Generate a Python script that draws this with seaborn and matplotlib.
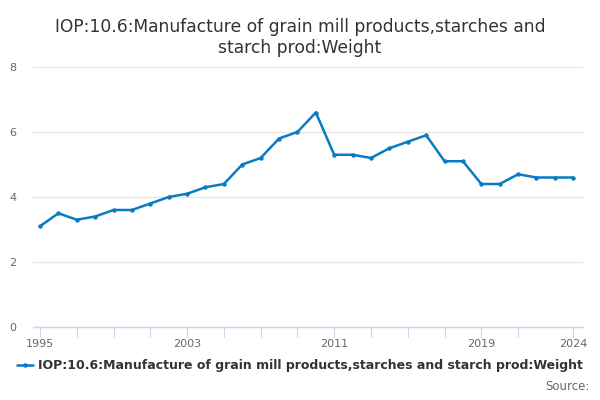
import numpy as np
import matplotlib
matplotlib.use("Agg")
import matplotlib.pyplot as plt
import seaborn as sns

years = list(range(1995, 2025))
values = [3.1, 3.5, 3.3, 3.4, 3.6, 3.6, 3.8, 4.0, 4.1, 4.3,
          4.4, 5.0, 5.2, 5.8, 6.0, 6.6, 5.3, 5.3, 5.2, 5.5,
          5.7, 5.9, 5.1, 5.1, 4.4, 4.4, 4.7, 4.6, 4.6, 4.6]
tick_years = list(range(1995, 2023, 2)) + [2024]
label_years = [1995, 2003, 2011, 2019, 2024]
yticks = [0, 2, 4, 6, 8]
series_name = "IOP:10.6:Manufacture of grain mill products,starches and starch prod:Weight"
title = "IOP:10.6:Manufacture of grain mill products,starches and\nstarch prod:Weight"

sns.set_style("white")
plt.rcParams['font.family'] = ['DejaVu Sans']

fig = plt.figure(figsize=(6, 4), dpi=100)
ax = fig.add_axes([0.055, 0.1825, 0.917, 0.65])

line_color = "#0b7bc1"
sns.lineplot(x=years, y=values, color=line_color, linewidth=1.8, marker="o",
             markersize=3.2, markeredgewidth=0, ax=ax, label=series_name, legend=False)

ax.set_xlim(1994.62, 2024.54)
ax.set_ylim(0, 8)
ax.set_yticks(yticks)
ax.set_yticklabels([str(v) for v in yticks])
ax.grid(axis="y", color="#e6e6e6", linewidth=1)
ax.set_axisbelow(True)
for s in ["top", "right", "left"]:
    ax.spines[s].set_visible(False)
ax.spines["bottom"].set_color("#ccd6eb")
ax.spines["bottom"].set_linewidth(1)

ax.set_xticks(tick_years)
ax.set_xticklabels([str(y) if y in label_years else "" for y in tick_years])
ax.tick_params(axis="x", bottom=True, direction="out", length=7.5, width=0.8,
               color="#ccd6eb", labelsize=8, labelcolor="#666666", pad=1)
ax.tick_params(axis="y", left=False, length=0, labelsize=8, labelcolor="#666666", pad=12)
ax.set_xlabel("")
ax.set_ylabel("")

fig.text(0.5, 0.955, title, ha="center", va="top", fontsize=12.3,
         color="#333333", linespacing=1.2)

# legend
handle = plt.Line2D([], [], color=line_color, linewidth=1.8, marker="o",
                    markersize=3.2, markeredgewidth=0)
fig.legend([handle], [series_name], loc="center", bbox_to_anchor=(0.5, 0.085),
           frameon=False, handlelength=1.3, handletextpad=0.4,
           prop={"weight": "bold", "size": 9})
for t in fig.legends[0].get_texts():
    t.set_color("#333333")

fig.text(0.982, 0.033, "Source:", ha="right", va="center", fontsize=8.5, color="#666666")

fig.savefig("out.png", dpi=100)
